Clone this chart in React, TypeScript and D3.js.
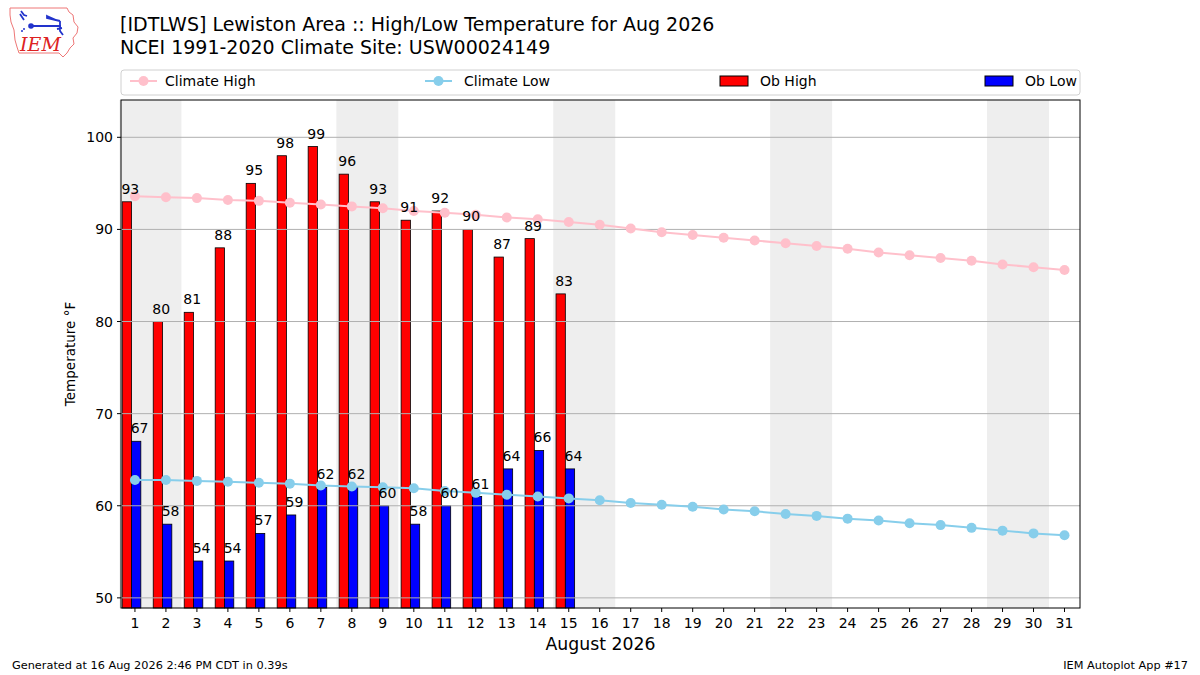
import * as d3 from "d3";

// Observed values for Aug 2026 (days 1-15)
const obHigh = [93, 80, 81, 88, 95, 98, 99, 96, 93, 91, 92, 90, 87, 89, 83];
const obLow = [67, 58, 54, 54, 57, 59, 62, 62, 60, 58, 60, 61, 64, 66, 64];

// NCEI 1991-2020 daily normals, days 1-31
const climateHigh = [
  93.6, 93.5, 93.4, 93.2, 93.1, 92.9, 92.7, 92.5, 92.3, 92.0, 91.8, 91.6, 91.3, 91.1, 90.8, 90.5,
  90.1, 89.7, 89.4, 89.1, 88.8, 88.5, 88.2, 87.9, 87.5, 87.2, 86.9, 86.6, 86.2, 85.9, 85.6,
];
const climateLow = [
  62.8, 62.8, 62.7, 62.6, 62.5, 62.4, 62.2, 62.1, 62.0, 61.9, 61.6, 61.4, 61.2, 61.0, 60.8, 60.6,
  60.3, 60.1, 59.9, 59.6, 59.4, 59.1, 58.9, 58.6, 58.4, 58.1, 57.9, 57.6, 57.3, 57.0, 56.8,
];

// weekend start days (Sat) to shade
const weekendStarts = [1, 8, 15, 22, 29];
const yTicks = [50, 60, 70, 80, 90, 100];

const days = d3.range(1, 32);
const font = "DejaVu Sans, sans-serif";

const margin = { left: 121, right: 1080, top: 100, bottom: 608 };

export default function App() {
  const x = d3.scaleLinear().domain([0.55, 31.5]).range([margin.left, margin.right]);
  const y = d3.scaleLinear().domain([48.9, 104.05]).range([margin.bottom, margin.top]);

  const climLine = d3
    .line<number>()
    .x((_, i) => x(i + 1))
    .y((d) => y(d));

  const barW = x(0.3) - x(0);

  return (
    <svg
      width={1200}
      height={675}
      style={{ position: "absolute", left: 0, top: 0, background: "#fff" }}
      fontFamily={font}
    >
      {/* IEM logo */}
      <g>
        <path
          d="M10,8 L67,8 L69,12 L73,15 L74,22 L78,27 L77,33 L73,38 L74,44 L70,48 L67,53 L63,57 L59,53 L19,53 L17,47 L15,40 L14,30 L11,22 L10,15 Z"
          fill="#fff"
          stroke="#e77"
          strokeWidth={1}
        />
        <path
          d="M21,11 L24,15 L27,16 M20,14 L24,20 M31,26 L61,26 M47,16 L56,20 L60,21 L47,18 Z M60,21 L60,31 L63,35 M57,29 L62,28"
          stroke="#2233cc"
          strokeWidth={1.8}
          fill="none"
        />
        <circle cx={31} cy={26} r={2.8} fill="#2233cc" />
        <circle cx={24} cy={29} r={1} fill="#2233cc" />
        <circle cx={22} cy={31} r={1} fill="#2233cc" />
        <text x={20} y={51} fontFamily="DejaVu Serif, serif" fontStyle="italic" fontSize={19} fill="#dd2222">
          IEM
        </text>
      </g>

      {/* Titles */}
      <text x={120} y={31} fontSize={19} fill="#000">
        [IDTLWS] Lewiston Area :: High/Low Temperature for Aug 2026
      </text>
      <text x={120} y={54} fontSize={19} fill="#000">
        NCEI 1991-2020 Climate Site: USW00024149
      </text>

      {/* Legend */}
      <rect x={121} y={70} width={959} height={25} rx={3} fill="#fff" stroke="#d0d0d0" />
      <line x1={130} x2={157} y1={81} y2={81} stroke="pink" strokeWidth={2} />
      <circle cx={143.5} cy={81} r={5} fill="pink" />
      <text x={165} y={86} fontSize={14}>Climate High</text>
      <line x1={425} x2={452} y1={81} y2={81} stroke="skyblue" strokeWidth={2} />
      <circle cx={438.5} cy={81} r={5} fill="skyblue" />
      <text x={464} y={86} fontSize={14}>Climate Low</text>
      <rect x={720} y={76} width={28} height={10} fill="red" stroke="#000" strokeWidth={1} />
      <text x={760} y={86} fontSize={14}>Ob High</text>
      <rect x={985} y={76} width={28} height={10} fill="blue" stroke="#000" strokeWidth={1} />
      <text x={1025} y={86} fontSize={14}>Ob Low</text>

      {/* Weekend shading */}
      {weekendStarts.map((d) => (
        <rect
          key={d}
          x={x(d - 0.5)}
          y={margin.top}
          width={x(d + 1.5) - x(d - 0.5)}
          height={margin.bottom - margin.top}
          fill="#eeeeee"
        />
      ))}

      {/* Bars */}
      {obHigh.map((v, i) => (
        <rect
          key={`h${i}`}
          x={x(i + 1 - 0.41)}
          y={y(v)}
          width={barW}
          height={margin.bottom - y(v)}
          fill="red"
          stroke="#000"
          strokeWidth={0.8}
        />
      ))}
      {obLow.map((v, i) => (
        <rect
          key={`l${i}`}
          x={x(i + 1 - 0.11)}
          y={y(v)}
          width={barW}
          height={margin.bottom - y(v)}
          fill="blue"
          stroke="#000"
          strokeWidth={0.8}
        />
      ))}

      {/* Grid on top of bars */}
      {yTicks.map((t) => (
        <line key={t} x1={margin.left} x2={margin.right} y1={y(t)} y2={y(t)} stroke="#b0b0b0" strokeWidth={1} />
      ))}

      {/* Climate lines */}
      <path d={climLine(climateHigh) ?? ""} fill="none" stroke="pink" strokeWidth={2} />
      {climateHigh.map((v, i) => (
        <circle key={`ch${i}`} cx={x(i + 1)} cy={y(v)} r={5} fill="pink" />
      ))}
      <path d={climLine(climateLow) ?? ""} fill="none" stroke="skyblue" strokeWidth={2} />
      {climateLow.map((v, i) => (
        <circle key={`cl${i}`} cx={x(i + 1)} cy={y(v)} r={5} fill="skyblue" />
      ))}

      {/* Bar labels */}
      {obHigh.map((v, i) => (
        <text key={`th${i}`} x={x(i + 1 - 0.15)} y={y(v) - 8} fontSize={14} textAnchor="middle">
          {v}
        </text>
      ))}
      {obLow.map((v, i) => (
        <text key={`tl${i}`} x={x(i + 1 + 0.15)} y={y(v) - 8} fontSize={14} textAnchor="middle">
          {v}
        </text>
      ))}

      {/* Axes frame */}
      <rect
        x={margin.left}
        y={margin.top}
        width={margin.right - margin.left}
        height={margin.bottom - margin.top}
        fill="none"
        stroke="#000"
        strokeWidth={1}
      />

      {/* Y ticks */}
      {yTicks.map((t) => (
        <g key={`yt${t}`}>
          <line x1={margin.left - 4} x2={margin.left} y1={y(t)} y2={y(t)} stroke="#000" />
          <text x={margin.left - 8} y={y(t) + 5} fontSize={14} textAnchor="end">
            {t}
          </text>
        </g>
      ))}
      <text
        transform={`translate(75,${(margin.top + margin.bottom) / 2}) rotate(-90)`}
        fontSize={13.5}
        textAnchor="middle"
      >
        Temperature °F
      </text>

      {/* X ticks */}
      {days.map((d) => (
        <g key={`xt${d}`}>
          <line x1={x(d)} x2={x(d)} y1={margin.bottom} y2={margin.bottom + 4} stroke="#000" />
          <text x={x(d)} y={margin.bottom + 20} fontSize={14} textAnchor="middle">
            {d}
          </text>
        </g>
      ))}
      <text x={(margin.left + margin.right) / 2} y={650} fontSize={17.3} textAnchor="middle">
        August 2026
      </text>

      {/* Footer */}
      <text x={12} y={669} fontSize={11.3}>
        Generated at 16 Aug 2026 2:46 PM CDT in 0.39s
      </text>
      <text x={1188} y={669} fontSize={11.3} textAnchor="end">
        IEM Autoplot App #17
      </text>
    </svg>
  );
}
